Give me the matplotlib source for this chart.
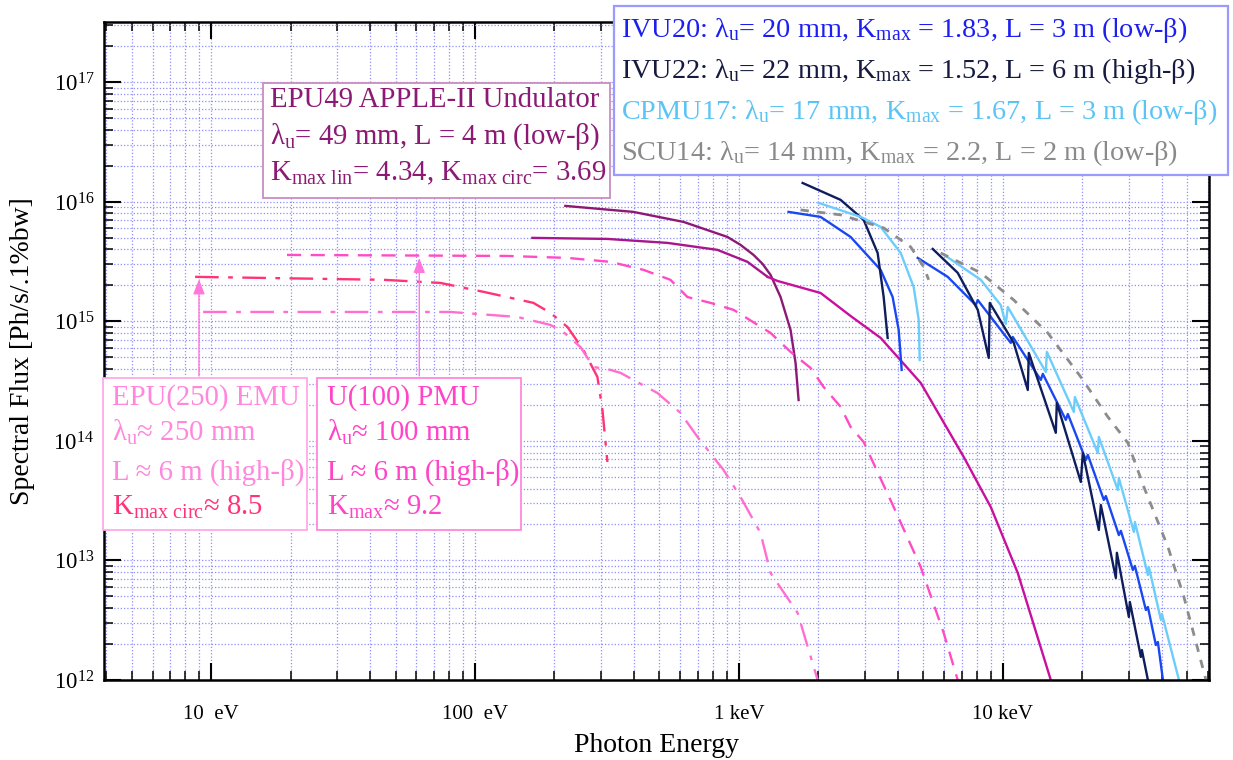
import matplotlib
matplotlib.use('Agg')
import matplotlib.pyplot as plt
from matplotlib.ticker import FixedLocator, FixedFormatter, LogLocator, LogFormatterMathtext, NullFormatter
from matplotlib.patches import Rectangle

plt.rcParams['font.family'] = ['Liberation Serif', 'DejaVu Serif']
plt.rcParams['mathtext.fontset'] = 'custom'
plt.rcParams['mathtext.rm'] = 'Liberation Serif'
plt.rcParams['mathtext.it'] = 'Liberation Serif:italic'
plt.rcParams['mathtext.default'] = 'regular'

# ---------------- data (photon energy in eV, flux in Ph/s/.1%bw) ----------------
epu49_lin_E = [220, 398, 617, 905, 1014, 1136, 1229, 1318, 1438, 1569, 1639, 1683]
epu49_lin_F = [9.26e15, 8.25e15, 6.80e15, 5.09e15, 4.37e15, 3.60e15, 3.03e15, 2.45e15, 1.60e15, 8.49e14,
               4.49e14, 2.20e14]

epu49_circ_E = [165, 317.5, 536, 829, 1078, 1284]
epu49_circ_F = [5.00e15, 4.90e15, 4.54e15, 3.97e15, 3.15e15, 2.36e15]

epu49_high_E = [1284, 1401, 2039, 2650, 3443, 4884, 7107, 9000, 11390, 15190]
epu49_high_F = [2.36e15, 2.18e15, 1.73e15, 1.11e15, 7.28e14, 3.06e14, 7.35e13, 2.80e13, 7.86e12, 1.0e12]

u100_E = [19.4, 132.6, 224, 326, 435, 550, 638, 780, 954, 1318, 1569, 1869, 2093, 2428, 2650, 2969, 3858, 4884, 5970, 6745]
u100_F = [3.60e15, 3.53e15, 3.40e15, 3.15e15, 2.70e15, 2.23e15, 1.60e15, 1.43e15, 1.25e15, 8.01e14, 5.56e14,
          4.08e14, 2.83e14, 1.93e14, 1.31e14, 9.8e13, 2.80e13, 8.82e12, 2.47e12, 1.0e12]

epu250_up_E = [8.70, 44.9, 73.9, 107.5, 166.4, 193, 224, 257.5, 291, 304, 317.5]
epu250_up_F = [2.36e15, 2.23e15, 2.10e15, 1.77e15, 1.43e15, 1.18e15, 8.99e14, 5.77e14, 3.43e14, 1.82e14, 6.67e13]

epu250_lo_E = [9.33, 80.6, 144.7, 193, 216, 250.8, 281, 326, 356, 491, 600, 697, 874, 1014, 1207, 1318, 1669, 1987]
epu250_lo_F = [1.20e15, 1.20e15, 1.09e15, 9.35e14, 8.17e14, 6.12e14, 4.16e14, 3.93e14, 3.71e14, 2.52e14,
               1.72e14, 1.08e14, 5.72e13, 3.40e13, 1.70e13, 7.86e12, 3.64e12, 1.0e12]

ivu20_h1_E = [1542, 2039, 2650, 3443, 3823, 4030, 4137]
ivu20_h1_F = [8.25e15, 7.49e15, 5.09e15, 2.70e15, 1.60e15, 8.49e14, 3.93e14]
ivu20_hn_E = [4757, 6181, 7893, 8033, 10715, 10900, 13925, 14170, 17320, 17630, 20630, 20990, 24130, 24560,
              27510, 28000, 31080, 31640, 34830, 35440, 38000, 38670, 40410]
ivu20_hn_F = [3.40e15, 2.36e15, 1.37e15, 1.51e15, 6.61e14, 7.42e14, 3.24e14, 3.64e14, 1.50e14, 1.68e14,
              6.93e13, 7.64e13, 3.21e13, 3.46e13, 1.63e13, 1.77e13, 8.33e12, 9.0e12, 3.85e12, 4.08e12,
              1.96e12, 2.08e12, 1.0e12]

ivu22_h1_E = [1743, 2428, 2969, 3354, 3535, 3660]
ivu22_h1_F = [1.44e16, 1.04e16, 7.07e15, 3.74e15, 1.60e15, 7.28e14]
ivu22_hn_E = [5423, 6745, 8033, 8843, 8920, 11000, 12430, 12540, 15870, 16010, 19740, 20090, 23100, 23510,
              26800, 27040, 30020, 30280, 33340, 33630, 35440]
ivu22_hn_F = [4.04e15, 2.55e15, 1.25e15, 4.95e14, 1.43e15, 6.61e14, 2.67e14, 5.45e14, 1.17e14, 2.08e14,
              4.54e13, 7.94e13, 1.80e13, 2.91e13, 7.14e12, 1.16e13, 3.37e12, 4.50e12, 1.56e12, 1.78e12, 1.0e12]

cpmu17_h1_E = [2004, 2893, 3443, 4101, 4594, 4799, 4841]
cpmu17_h1_F = [9.81e15, 7.49e15, 6.18e15, 3.74e15, 1.94e15, 1.03e15, 4.76e14]
cpmu17_hn_E = [6075, 8248, 9817, 10260, 10440, 14550, 14680, 18570, 18740, 22900, 23100, 27270, 27510,
               31360, 31640, 35440, 35750, 39700, 40060, 46470]
cpmu17_hn_F = [3.53e15, 2.23e15, 1.37e15, 9.53e14, 1.32e15, 3.78e14, 5.56e14, 1.75e14, 2.33e14, 7.94e13,
               1.08e14, 3.89e13, 4.90e13, 1.73e13, 2.10e13, 7.56e12, 8.82e12, 3.18e12, 3.57e12, 1.0e12]

scu14_h1_E = [1712, 2428, 3535, 4475, 5013, 5236]
scu14_h1_F = [8.57e15, 7.79e15, 6.06e15, 4.20e15, 2.86e15, 2.23e15]
scu14_hn_E = [5815, 8248, 11000, 14800, 19740, 24990, 29770, 34220, 42210, 48530, 58830]
scu14_hn_F = [3.74e15, 2.55e15, 1.51e15, 8.01e14, 3.43e14, 1.59e14, 9.62e13, 4.12e13, 1.30e13, 4.95e12, 1.0e12]

# arrows (energy, tip flux, base flux)
arrow_epu250 = (9.0, 2.25e15, 3.5e14)
arrow_u100 = (61.5, 3.4e15, 3.5e14)

xtick_vals = [10, 100, 1000, 10000]
xtick_labels = ['10  eV', '100  eV', '1 keV', '10 keV']

legend_lines = [
    ('IVU20: λ$_{u}$= 20 mm, K$_{max}$ = 1.83, L = 3 m (low-β)', '#1c1ff0'),
    ('IVU22: λ$_{u}$= 22 mm, K$_{max}$ = 1.52, L = 6 m (high-β)', '#161a40'),
    ('CPMU17: λ$_{u}$= 17 mm, K$_{max}$ = 1.67, L = 3 m (low-β)', '#5cc4f4'),
    ('SCU14: λ$_{u}$= 14 mm, K$_{max}$ = 2.2, L = 2 m (low-β)', '#8a8a8a'),
]
epu49_lines = ['EPU49 APPLE-II Undulator',
               'λ$_{u}$= 49 mm, L = 4 m (low-β)',
               'K$_{max\\ lin}$= 4.34, K$_{max\\ circ}$= 3.69']
epu250_lines = [('EPU(250) EMU', '#ff88dd'), ('λ$_{u}$≈ 250 mm', '#ff88dd'),
                ('L ≈ 6 m (high-β)', '#ff88dd'), ('K$_{max\\ circ}$≈ 8.5', '#ff3378')]
u100_lines = ['U(100) PMU', 'λ$_{u}$≈ 100 mm', 'L ≈ 6 m (high-β)', 'K$_{max}$≈ 9.2']

# ---------------- figure ----------------
W, H = 1233, 760
fig = plt.figure(figsize=(W / 100, H / 100), dpi=100)
ax = fig.add_axes([104 / W, 1 - 680 / H, (1209 - 104) / W, (680 - 22) / H])
ax.set_xscale('log')
ax.set_yscale('log')
ax.set_xlim(3.93, 60400)
ax.set_ylim(1e12, 3.2e17)

gridc = '#8e8eff'
ax.grid(True, which='both', color=gridc, linestyle=(0, (1, 1.6)), linewidth=0.9)
ax.set_axisbelow(True)

lw = 1.7
c_epu49 = '#8c1a74'
c_epu49c = '#a8168c'
c_mag = '#c8109c'
ax.plot(epu49_lin_E, epu49_lin_F, color=c_epu49, lw=lw)
ax.plot(epu49_circ_E, epu49_circ_F, color=c_epu49c, lw=lw)
ax.plot(epu49_high_E, epu49_high_F, color=c_mag, lw=lw)

ax.plot(u100_E, u100_F, color='#ff4cc6', lw=lw, linestyle=(0, (6, 4)))
ax.plot(epu250_up_E, epu250_up_F, color='#ff3378', lw=lw, linestyle=(0, (10, 4, 2, 4)))
ax.plot(epu250_lo_E, epu250_lo_F, color='#ff6ed0', lw=lw, linestyle=(0, (10, 4, 2, 4)))

c20, c22, c17, c14 = '#1a48f0', '#0e1d5c', '#6ccdfb', '#8c8c8c'
ax.plot(ivu20_h1_E, ivu20_h1_F, color=c20, lw=lw)
ax.plot(ivu20_hn_E, ivu20_hn_F, color=c20, lw=lw)
ax.plot(ivu22_h1_E, ivu22_h1_F, color=c22, lw=lw)
ax.plot(ivu22_hn_E, ivu22_hn_F, color=c22, lw=lw)
ax.plot(cpmu17_h1_E, cpmu17_h1_F, color=c17, lw=lw)
ax.plot(cpmu17_hn_E, cpmu17_hn_F, color=c17, lw=lw)
ax.plot(scu14_h1_E, scu14_h1_F, color=c14, lw=2.0, linestyle=(0, (3, 3)))
ax.plot(scu14_hn_E, scu14_hn_F, color=c14, lw=2.0, linestyle=(0, (3, 3)))

for (e, tip, base) in (arrow_epu250, arrow_u100):
    ax.annotate('', xy=(e, tip), xytext=(e, base),
                arrowprops=dict(arrowstyle='-|>,head_length=0.9,head_width=0.35',
                                color='#ff77dd', lw=1.0, shrinkA=0, shrinkB=0))

# ticks
ax.xaxis.set_major_locator(FixedLocator(xtick_vals))
ax.xaxis.set_major_formatter(FixedFormatter(xtick_labels))
ax.xaxis.set_minor_locator(LogLocator(base=10, subs=range(2, 10), numticks=20))
ax.xaxis.set_minor_formatter(NullFormatter())
ax.yaxis.set_major_locator(LogLocator(base=10, numticks=20))
ax.yaxis.set_major_formatter(LogFormatterMathtext())
ax.yaxis.set_minor_locator(LogLocator(base=10, subs=range(2, 10), numticks=20))
ax.yaxis.set_minor_formatter(NullFormatter())
ax.tick_params(which='both', direction='in', top=True, right=True, color='black')
ax.tick_params(which='major', length=12, width=1.5)
ax.tick_params(which='minor', length=6.5, width=1.1)
ax.tick_params(axis='x', which='major', labelsize=15, pad=18)
ax.tick_params(axis='y', which='major', labelsize=16.5, pad=7)
for s in ax.spines.values():
    s.set_linewidth(1.8)

ax.set_xlabel('Photon Energy', fontsize=20)
ax.set_ylabel('Spectral Flux [Ph/s/.1%bw]', fontsize=20)
ax.xaxis.set_label_coords(0.5, -0.08)
ax.yaxis.set_label_coords(-0.062, 0.5)


def fx(px):
    return px / W


def fy(py):
    return 1 - py / H


def box(x0, y0, x1, y1, ec, lwb=1.3):
    fig.add_artist(Rectangle((fx(x0), fy(y1)), fx(x1) - fx(x0), fy(y0) - fy(y1),
                             transform=fig.transFigure, facecolor='white', edgecolor=ec,
                             linewidth=lwb, zorder=5))


fs = 20.7
# legend box
box(614, 6, 1228, 175, '#9a9aff', 1.6)
for (txt, col), yb in zip(legend_lines, [37, 78, 119, 160]):
    fig.text(fx(621), fy(yb), txt, color=col, fontsize=20.3, va='baseline', ha='left', zorder=6)

# EPU49 box
box(263, 83, 610, 198, '#c88cc0', 1.3)
for txt, yb in zip(epu49_lines, [107, 144, 180]):
    fig.text(fx(270), fy(yb), txt, color=c_epu49, fontsize=fs, va='baseline', ha='left', zorder=6)

# EPU(250) box
box(103, 378, 307, 530, '#ffaae6', 1.3)
for (txt, col), yb in zip(epu250_lines, [405, 441, 480, 515]):
    fig.text(fx(112), fy(yb), txt, color=col, fontsize=fs, va='baseline', ha='left', zorder=6)

# U(100) box
box(317, 378, 521, 530, '#ff88dd', 1.3)
for txt, yb in zip(u100_lines, [405, 441, 480, 515]):
    fig.text(fx(327), fy(yb), txt, color='#ff44c8', fontsize=fs, va='baseline', ha='left', zorder=6)

fig.savefig('out.png', dpi=100)
